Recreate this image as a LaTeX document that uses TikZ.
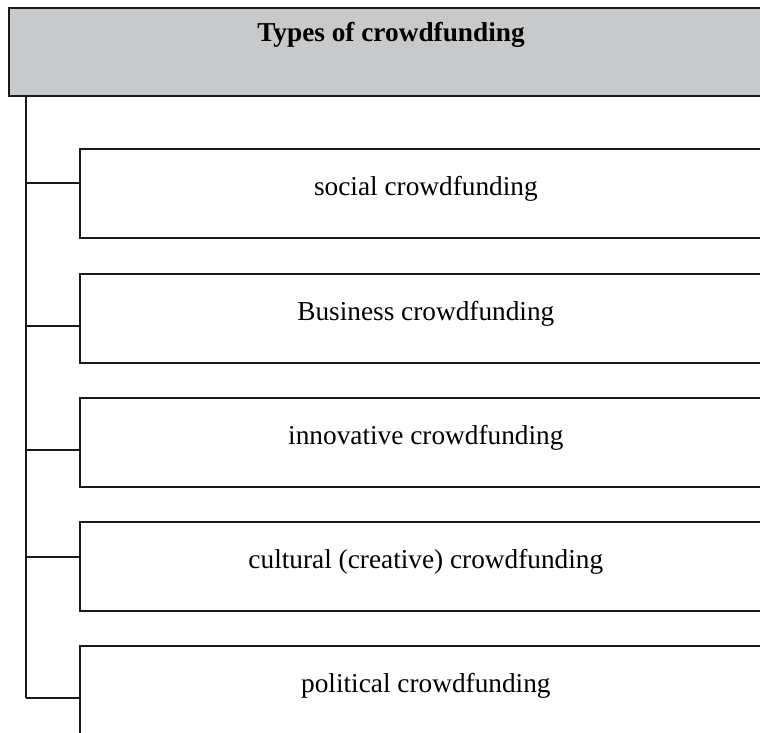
\documentclass[tikz,border=0pt]{standalone}
\usepackage{fontspec}
\setmainfont{Liberation Serif}
\definecolor{hdrgray}{RGB}{200,201,203}
\definecolor{linecol}{RGB}{25,25,25}
\begin{document}
\begin{tikzpicture}[x=1pt,y=-1pt,
  lines/.style={draw=linecol,line width=1.7pt},
  typebox/.style={lines,rectangle,anchor=north west,minimum width=692pt,minimum height=89pt,inner sep=0pt,
    font=\fontsize{27.3}{32}\selectfont,text height=0.69em,text depth=0.22em},
  hdrbox/.style={lines,fill=hdrgray,rectangle,anchor=north west,minimum width=780pt,minimum height=88pt,inner sep=0pt},
  titletext/.style={font=\fontsize{27.3}{32}\selectfont\bfseries,anchor=base,inner sep=0pt}]
\useasboundingbox (0,0) rectangle (760,732);
\fill[white] (0,0) rectangle (760,732);
\clip (0,0) rectangle (760,732);
\node[hdrbox] (header) at (8,7) {};
\node[titletext] (title) at (391,41) {Types of crowdfunding};
\node[typebox] (b1) at (79,148) {social crowdfunding};
\node[typebox] (b2) at (79,273) {Business crowdfunding};
\node[typebox] (b3) at (79,397) {innovative crowdfunding};
\node[typebox] (b4) at (79,521) {cultural (creative) crowdfunding};
\node[typebox] (b5) at (79,645) {political crowdfunding};
\coordinate (trunktop) at (header.south west -| 26,0);
\coordinate (trunkbot) at (26,698);
\draw[lines] (trunktop) -- (trunkbot);
\draw[lines] (trunktop |- 0,183) -- (b1.west |- 0,183);
\draw[lines] (trunktop |- 0,326) -- (b2.west |- 0,326);
\draw[lines] (trunktop |- 0,450) -- (b3.west |- 0,450);
\draw[lines] (trunktop |- 0,557) -- (b4.west |- 0,557);
\draw[lines] (trunkbot) -- (b5.west |- trunkbot);
\end{tikzpicture}
\end{document}
